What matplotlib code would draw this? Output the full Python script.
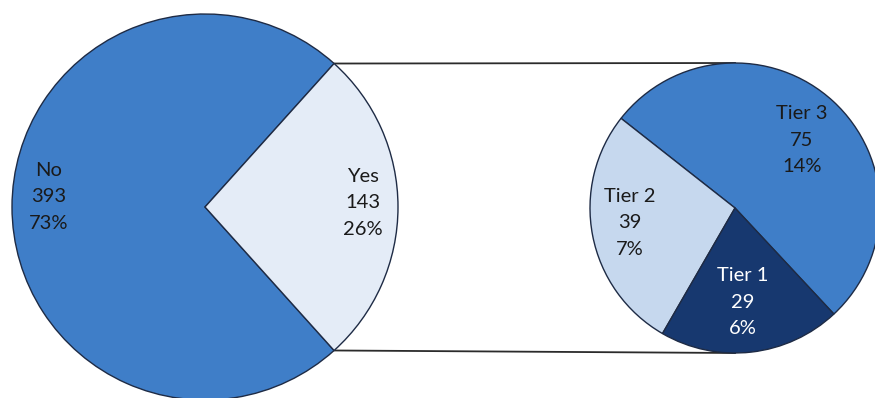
import matplotlib
matplotlib.use("Agg")
import matplotlib.pyplot as plt
import numpy as np

plt.rcParams['font.family'] = ['Lato', 'DejaVu Sans']

# data
main_labels = ["No", "Yes"]
main_counts = [393, 143]
main_pcts = ["73%", "26%"]

tier_labels = ["Tier 3", "Tier 2", "Tier 1"]
tier_counts = [75, 39, 29]
tier_pcts = ["14%", "7%", "6%"]

# layout (pixel-like coords, y up)
W, H = 875, 398
c1, r1 = (205, 191), 193
c2, r2 = (735, 190), 145
main_text_pos = [(49, 201), (363, 195)]
tier_text_pos = [(802, 258), (630, 175), (743, 96)]

main_colors = ["#3F7EC8", "#E4ECF7"]
tier_colors = ["#3F7EC8", "#C6D8EE", "#17386F"]
tier_text_colors = ["#1a1a1a", "#1a1a1a", "white"]
edge = "#1E2B45"

fig = plt.figure(figsize=(W / 100, H / 100), dpi=100)
ax = fig.add_axes([0, 0, 1, 1])

# Yes wedge centred on the right (0 deg)
yes_half = main_counts[1] / sum(main_counts) * 180
w1, _ = ax.pie(main_counts, colors=main_colors, startangle=yes_half, counterclock=True,
               center=c1, radius=r1, frame=True,
               wedgeprops=dict(edgecolor=edge, linewidth=1.0))
w2, _ = ax.pie(tier_counts, colors=tier_colors, startangle=-47, counterclock=True,
               center=c2, radius=r2, frame=True,
               wedgeprops=dict(edgecolor=edge, linewidth=1.0))

# connector lines from Yes wedge edges to the top/bottom of the second pie
yes = w1[1]
for th, y2 in [(yes.theta2, c2[1] + r2), (yes.theta1, c2[1] - r2)]:
    x0 = c1[0] + r1 * np.cos(np.radians(th))
    y0 = c1[1] + r1 * np.sin(np.radians(th))
    ax.plot([x0, c2[0]], [y0, y2], color="#2b2b2b", lw=1.3, zorder=0)

for lab, n, p, (x, y) in zip(main_labels, main_counts, main_pcts, main_text_pos):
    ax.text(x, y, f"{lab}\n{n}\n{p}", ha="center", va="center", fontsize=14.5,
            color="#1a1a1a", linespacing=1.68)
for lab, n, p, (x, y), tc in zip(tier_labels, tier_counts, tier_pcts, tier_text_pos, tier_text_colors):
    ax.text(x, y, f"{lab}\n{n}\n{p}", ha="center", va="center", fontsize=14.5,
            color=tc, linespacing=1.68)

ax.set_xlim(0, W)
ax.set_ylim(0, H)
ax.set_aspect("equal")
ax.axis("off")
fig.savefig("out.png", dpi=100, facecolor="white")
